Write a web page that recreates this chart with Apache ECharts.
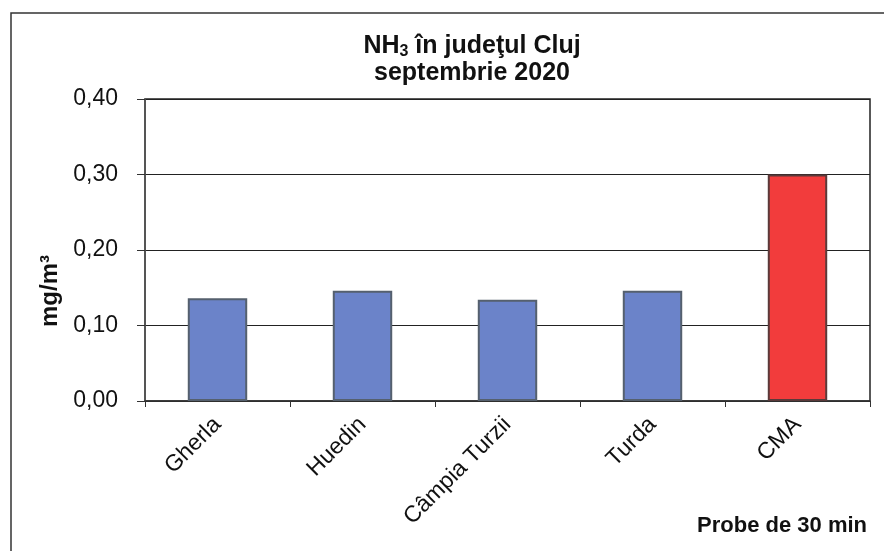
<!DOCTYPE html>
<html>
<head>
<meta charset="utf-8">
<script src="https://cdn.jsdelivr.net/npm/echarts@6/dist/echarts.min.js"></script>
<style>
    html, body { margin: 0; padding: 0; background: #fff; }
    #chartDiv { width: 884px; height: 551px; }
</style>
</head>
<body>
<div id="chartDiv"></div>
<script>
var stations = ["Gherla", "Huedin", "Câmpia Turzii", "Turda", "CMA"];
var nh3Values = [0.136, 0.146, 0.134, 0.146, 0.30];
var barColors = ["#6b83c9", "#6b83c9", "#6b83c9", "#6b83c9", "#f23c3c"];
var yTicks = [0, 0.1, 0.2, 0.3, 0.4];

var chartDiv = echarts.init(document.getElementById("chartDiv"));

// bare colorate: albastru pentru statii, rosu pentru CMA
var barData = [];
for (var i = 0; i < nh3Values.length; i++) {
    barData.push({
        value: nh3Values[i],
        itemStyle: {
            color: barColors[i],
            borderColor: i == 4 ? "#5a3a3a" : "#55606e",
            borderWidth: 2
        }
    });
}

var option = {
    backgroundColor: "#fff",
    animation: false,
    textStyle: {fontFamily: "Liberation Sans, Arial, sans-serif"},
    title: {
        text: "{b|NH}{sub|3}{b| în judeţul Cluj}\n{b|septembrie 2020}",
        left: 467,
        top: 28,
        textAlign: "center",
        textStyle: {
            fontSize: 25,
            fontWeight: "bold",
            lineHeight: 27,
            rich: {
                b: {fontSize: 25, fontWeight: "bold", color: "#111", fontFamily: "Liberation Sans", lineHeight: 27},
                sub: {fontSize: 16, fontWeight: "bold", color: "#111", fontFamily: "Liberation Sans", verticalAlign: "bottom", lineHeight: 10}
            }
        }
    },
    graphic: [
        {
            type: "rect",
            shape: {x: 11, y: 13, width: 890, height: 560},
            style: {fill: "none", stroke: "#333", lineWidth: 1.5},
            silent: true
        },
        {
            // eticheta axei Y, putin sub mijlocul graficului
            type: "text",
            x: 50,
            y: 291,
            rotation: Math.PI / 2,
            style: {text: "mg/m³", font: "bold 24px Liberation Sans", fill: "#111", align: "center", verticalAlign: "middle"}
        },
        {
            type: "text",
            right: 17,
            top: 515,
            style: {text: "Probe de 30 min", font: "bold 22px Liberation Sans", fill: "#111"}
        }
    ],
    grid: {
        left: 145,
        right: 14,
        top: 99,
        bottom: 150,
        show: true,
        borderColor: "#222",
        borderWidth: 1.5
    },
    xAxis: {
        type: "category",
        data: stations,
        axisLine: {lineStyle: {color: "#333", width: 1.5}},
        axisTick: {show: true, length: 6, lineStyle: {color: "#333"}},
        axisLabel: {
            rotate: 45,
            fontSize: 23,
            color: "#111",
            fontFamily: "Liberation Sans",
            margin: 20,
            interval: 0
        }
    },
    yAxis: {
        type: "value",
        min: yTicks[0],
        max: yTicks[yTicks.length - 1],
        interval: 0.1,
        axisLine: {show: true, lineStyle: {color: "#555", width: 1.5}},
        axisTick: {show: true, length: 8, lineStyle: {color: "#333"}},
        splitLine: {lineStyle: {color: "#222", width: 1.2}},
        axisLabel: {
            fontSize: 23,
            color: "#111",
            fontFamily: "Liberation Sans",
            margin: 27,
            formatter: function (v) { return v.toFixed(2).replace(".", ","); }
        }
    },
    series: [{
        type: "bar",
        data: barData,
        barCategoryGap: "59%"
    }]
};

chartDiv.setOption(option);
</script>
</body>
</html>
